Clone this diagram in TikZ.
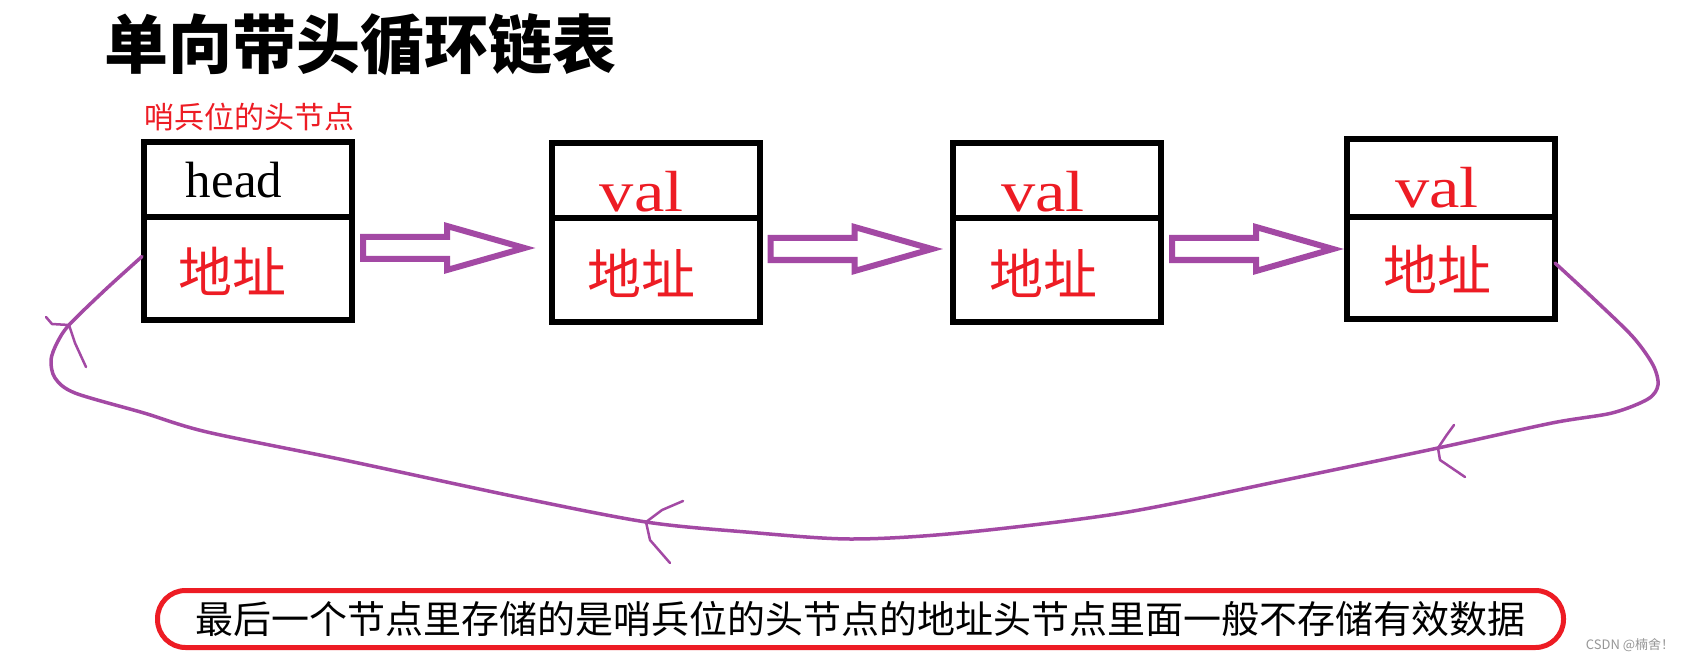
\documentclass[tikz,border=0pt]{standalone}
\usepackage{fontspec}
\setmainfont{Liberation Serif}
\newfontfamily\cjk{Noto Sans CJK SC}
\usepackage{graphicx}
\usetikzlibrary{calc}
\definecolor{pred}{RGB}{237,28,36}
\definecolor{ppurple}{RGB}{163,73,164}
\definecolor{wmgray}{RGB}{150,150,150}
\tikzset{
 cell/.style={draw=black, line width=6pt, inner sep=0pt, outer sep=0pt, minimum width=208pt, anchor=north},
 blockarr/.style={draw=ppurple, line width=6pt, line join=miter, fill=white},
 loopline/.style={draw=ppurple, line width=3.5pt, line cap=round, line join=round},
 chev/.style={draw=ppurple, line width=2.5pt, line cap=round, line join=round},
 titletext/.style={font=\cjk\bfseries\fontsize{64}{70}\selectfont, inner sep=0pt},
 redlabel/.style={font=\cjk\fontsize{30}{34}\selectfont, text=pred, inner sep=0pt},
 addr/.style={font=\cjk\fontsize{54}{60}\selectfont, text=pred, inner sep=0pt},
 headtxt/.style={font=\fontsize{51}{56}\selectfont, anchor=base, inner sep=0pt},
 valtxt/.style={font=\fontsize{58}{62}\selectfont, text=pred, anchor=base, inner sep=0pt},
 notebox/.style={draw=pred, line width=5pt, rounded corners=28pt, minimum width=1406pt, minimum height=57pt, inner sep=0pt, font=\cjk\fontsize{38}{42}\selectfont},
 wmark/.style={font=\cjk\fontsize{13}{15}\selectfont, text=wmgray, inner sep=0pt}
}
% block arrow from node #1 (east side) to node #2 (west side), #3 = gap before #2
\newcommand\blockarrow[3]{%
 \draw[blockarr] let \p1=($(#1.north east)+(11,31)$), \p2=($(#2.north west)+(-#3,0)$), \n1={\x1+84} in
 (\x1,\y1+11pt) -- (\n1,\y1+11pt) -- (\n1,\y1+22pt) -- (\x2,\y1) -- (\n1,\y1-22pt) -- (\n1,\y1-11pt) -- (\x1,\y1-11pt) -- cycle;}
\begin{document}
\begin{tikzpicture}[x=1pt,y=-1pt]
\useasboundingbox (0,0) rectangle (1703,663);
\fill[white] (0,0) rectangle (1703,663);

\node[titletext] (title) at (360,45) {单向带头循环链表};
\node[redlabel] (sentinel) at (249.5,117.5) {哨兵位的头节点};

% boxes
\node[cell, minimum height=75pt] (b1t) at (248,142) {};
\node[cell, minimum height=103pt] (b1b) at (b1t.south) {};
\node[cell, minimum height=75pt] (b2t) at (655.5,143) {};
\node[cell, minimum height=104pt] (b2b) at (b2t.south) {};
\node[cell, minimum height=75pt] (b3t) at (1057,143) {};
\node[cell, minimum height=104pt] (b3b) at (b3t.south) {};
\node[cell, minimum height=78pt] (b4t) at (1451,139) {};
\node[cell, minimum height=102pt] (b4b) at (b4t.south) {};

% texts in boxes
\node[headtxt] (h1) at (234,198) {head};
\node[valtxt] (v2) at (641.6,211.5) {\scalebox{1.18}[1]{val}};
\node[valtxt] (v3) at (1043,211.5) {\scalebox{1.18}[1]{val}};
\node[valtxt] (v4) at (1437,208) {\scalebox{1.18}[1]{val}};
\node[addr] (a1) at (232,271.5) {地址};
\node[addr] (a2) at (641,273.5) {地址};
\node[addr] (a3) at (1043,273.5) {地址};
\node[addr] (a4) at (1437,269) {地址};

% block arrows
\blockarrow{b1b}{b2b}{27}
\blockarrow{b2b}{b3b}{21}
\blockarrow{b3b}{b4b}{14}

% loop back curve
\coordinate (c4) at ($(b4b.east)+(0,-5)$);
\coordinate (c1) at ($(b1b.west)+(-2,-12)$);
\draw[loopline] plot[smooth, tension=0.5] coordinates {(c4) (1595,300) (1633,337) (1653,365) (1658,385) (1648,399) (1612,413) (1552,423) (1438,448) (1285,480) (1122,513) (959,533) (850,539) (746,532) (646,522) (517,497) (344,460) (207,432) (144,413) (75,393) (55,378) (51,360) (57,343) (69,325) (105,290) (c1)};

% hand drawn arrow marks
\draw[chev] (1454,425) -- (1446,436) -- (1438,448) -- (1440,460) -- (1465,477);
\draw[chev] (683,501) -- (662,510) -- (646,522) -- (650,540) -- (670,563);
\draw[chev] (46,317) -- (52,324) -- (69,325) -- (75,343) -- (86,367);

% note
\node[notebox] (note) at (860.5,619) {最后一个节点里存储的是哨兵位的头节点的地址头节点里面一般不存储有效数据};
\node[wmark] (wm) at (1630,645) {CSDN @楠舍！};
\end{tikzpicture}
\end{document}
